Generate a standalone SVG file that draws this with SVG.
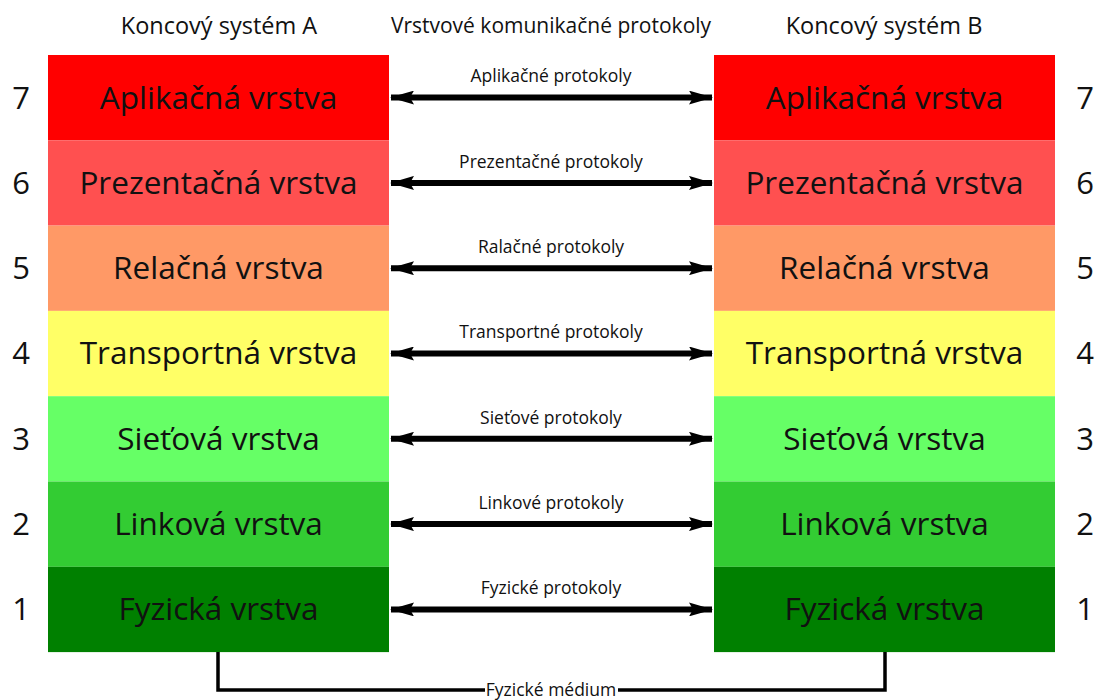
<svg xmlns="http://www.w3.org/2000/svg" width="1101" height="700" viewBox="0 0 1101 700">
  <style>
    text { font-family: "Open Sans", "Liberation Sans", sans-serif; fill: #111; }
    .hdr { font-size: 23.5px; text-anchor: middle; }
    .layer { font-size: 31.5px; text-anchor: middle; }
    .num { font-size: 31px; text-anchor: middle; }
    .proto { font-size: 17.5px; text-anchor: middle; }
    .conn { stroke: #000; stroke-width: 6; fill: none; }
    .medium { stroke: #000; stroke-width: 3.5; fill: none; }
  </style>
  <defs>
    <marker id="head" viewBox="0 0 24 14" refX="23" refY="7" markerUnits="userSpaceOnUse" markerWidth="24" markerHeight="14" orient="auto-start-reverse">
      <path d="M0,0 L24,7 L0,14 L4,7 Z" fill="#000"/>
    </marker>
  </defs>
  <rect width="1101" height="700" fill="#fff"/>

  <!-- column headings -->
  <text class="hdr" x="219" y="34">Koncový systém A</text>
  <text class="hdr" x="551" y="33" style="font-size:21px">Vrstvové komunikačné protokoly</text>
  <text class="hdr" x="884" y="34">Koncový systém B</text>

  <!-- end system A -->
  <g id="a7"><rect x="48" y="55" width="341" height="85.3" fill="#FF0000"/><text class="layer" x="218.5" y="108.5">Aplikačná vrstva</text></g>
  <g id="a6"><rect x="48" y="140.3" width="341" height="85.3" fill="#FF5050"/><text class="layer" x="218.5" y="193.8">Prezentačná vrstva</text></g>
  <g id="a5"><rect x="48" y="225.6" width="341" height="85.3" fill="#FF9966"/><text class="layer" x="218.5" y="279.1">Relačná vrstva</text></g>
  <g id="a4"><rect x="48" y="310.9" width="341" height="85.3" fill="#FFFF66"/><text class="layer" x="218.5" y="364.4">Transportná vrstva</text></g>
  <g id="a3"><rect x="48" y="396.2" width="341" height="85.3" fill="#66FF66"/><text class="layer" x="218.5" y="449.7">Sieťová vrstva</text></g>
  <g id="a2"><rect x="48" y="481.5" width="341" height="85.3" fill="#33CC33"/><text class="layer" x="218.5" y="535">Linková vrstva</text></g>
  <g id="a1"><rect x="48" y="566.8" width="341" height="85.3" fill="#008000"/><text class="layer" x="218.5" y="620.3">Fyzická vrstva</text></g>

  <!-- end system B -->
  <g id="b7"><rect x="714" y="55" width="341" height="85.3" fill="#FF0000"/><text class="layer" x="884.5" y="108.5">Aplikačná vrstva</text></g>
  <g id="b6"><rect x="714" y="140.3" width="341" height="85.3" fill="#FF5050"/><text class="layer" x="884.5" y="193.8">Prezentačná vrstva</text></g>
  <g id="b5"><rect x="714" y="225.6" width="341" height="85.3" fill="#FF9966"/><text class="layer" x="884.5" y="279.1">Relačná vrstva</text></g>
  <g id="b4"><rect x="714" y="310.9" width="341" height="85.3" fill="#FFFF66"/><text class="layer" x="884.5" y="364.4">Transportná vrstva</text></g>
  <g id="b3"><rect x="714" y="396.2" width="341" height="85.3" fill="#66FF66"/><text class="layer" x="884.5" y="449.7">Sieťová vrstva</text></g>
  <g id="b2"><rect x="714" y="481.5" width="341" height="85.3" fill="#33CC33"/><text class="layer" x="884.5" y="535">Linková vrstva</text></g>
  <g id="b1"><rect x="714" y="566.8" width="341" height="85.3" fill="#008000"/><text class="layer" x="884.5" y="620.3">Fyzická vrstva</text></g>

  <!-- layer numbers -->
  <g id="numbers">
    <text class="num" x="21" y="108.5">7</text><text class="num" x="1085" y="108.5">7</text>
    <text class="num" x="21" y="193.8">6</text><text class="num" x="1085" y="193.8">6</text>
    <text class="num" x="21" y="279.1">5</text><text class="num" x="1085" y="279.1">5</text>
    <text class="num" x="21" y="364.4">4</text><text class="num" x="1085" y="364.4">4</text>
    <text class="num" x="21" y="449.7">3</text><text class="num" x="1085" y="449.7">3</text>
    <text class="num" x="21" y="535">2</text><text class="num" x="1085" y="535">2</text>
    <text class="num" x="21" y="620.3">1</text><text class="num" x="1085" y="620.3">1</text>
  </g>

  <!-- peer protocol connectors -->
  <g id="connectors">
    <line class="conn" x1="391" y1="97.6" x2="712" y2="97.6" marker-start="url(#head)" marker-end="url(#head)"/>
    <text class="proto" x="551" y="82">Aplikačné protokoly</text>
    <line class="conn" x1="391" y1="182.9" x2="712" y2="182.9" marker-start="url(#head)" marker-end="url(#head)"/>
    <text class="proto" x="551" y="168">Prezentačné protokoly</text>
    <line class="conn" x1="391" y1="268.2" x2="712" y2="268.2" marker-start="url(#head)" marker-end="url(#head)"/>
    <text class="proto" x="551" y="253">Ralačné protokoly</text>
    <line class="conn" x1="391" y1="353.5" x2="712" y2="353.5" marker-start="url(#head)" marker-end="url(#head)"/>
    <text class="proto" x="551" y="338">Transportné protokoly</text>
    <line class="conn" x1="391" y1="438.8" x2="712" y2="438.8" marker-start="url(#head)" marker-end="url(#head)"/>
    <text class="proto" x="551" y="424">Sieťové protokoly</text>
    <line class="conn" x1="391" y1="524.1" x2="712" y2="524.1" marker-start="url(#head)" marker-end="url(#head)"/>
    <text class="proto" x="551" y="509">Linkové protokoly</text>
    <line class="conn" x1="391" y1="609.4" x2="712" y2="609.4" marker-start="url(#head)" marker-end="url(#head)"/>
    <text class="proto" x="551" y="594">Fyzické protokoly</text>

    <!-- physical medium link -->
    <polyline class="medium" points="218,652 218,690 885,690 885,652"/>
    <rect x="485" y="680" width="133" height="20" fill="#fff"/>
    <text class="proto" x="551" y="696">Fyzické médium</text>
  </g>
</svg>
